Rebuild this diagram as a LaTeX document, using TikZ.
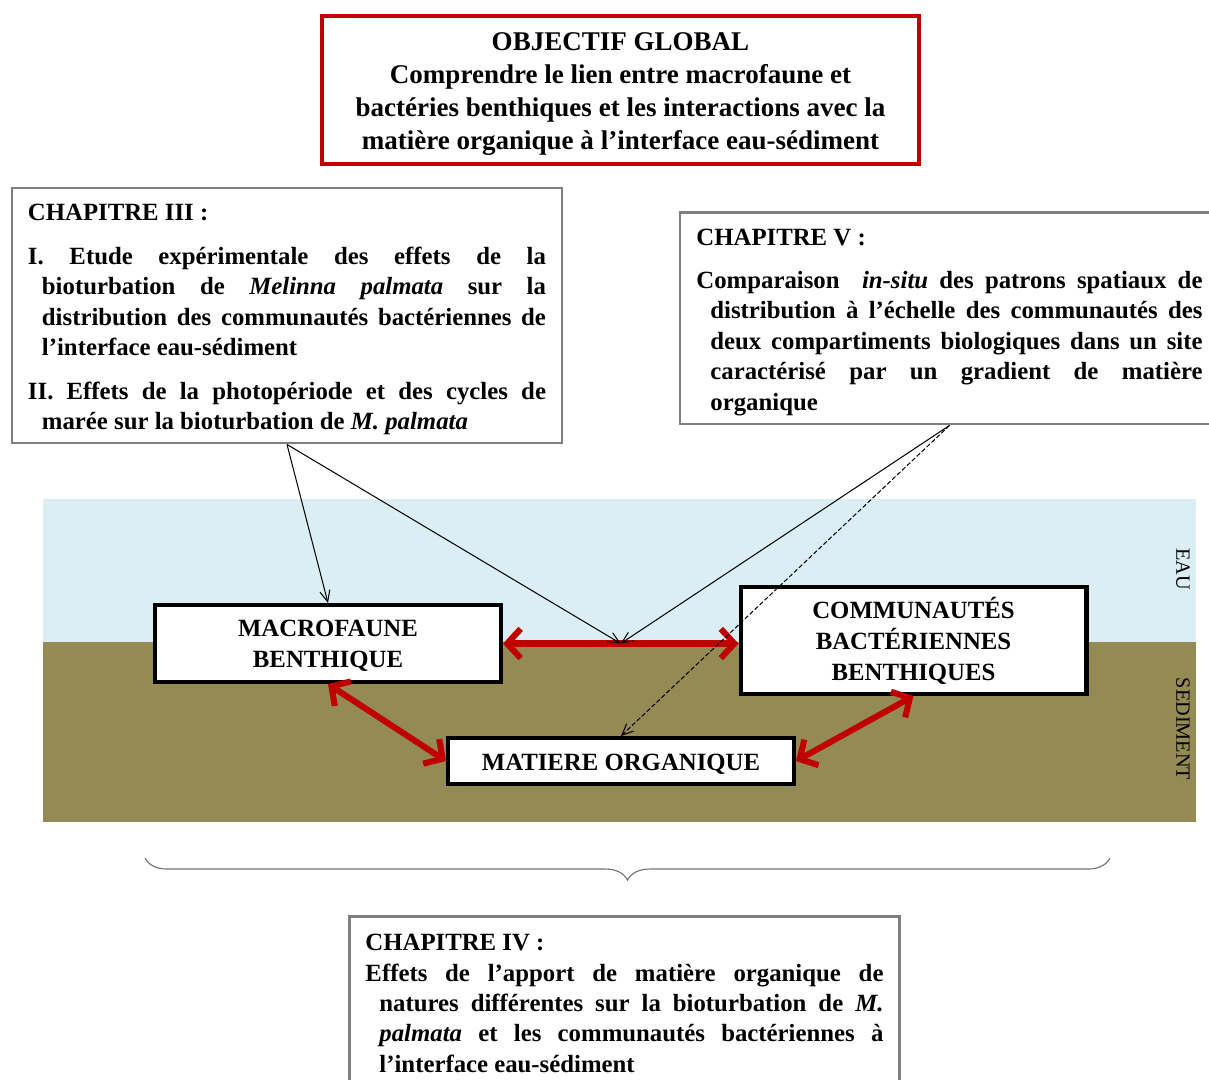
\documentclass[tikz,border=0pt]{standalone}
\usepackage{fontspec}
\setmainfont{Liberation Serif}
\usetikzlibrary{arrows.meta, decorations.pathreplacing}
\definecolor{eau}{RGB}{218,238,243}
\definecolor{sediment}{RGB}{148,138,84}
\definecolor{rouge}{RGB}{192,0,0}
\definecolor{gris}{RGB}{127,127,127}
\newcommand{\hangpar}{\hangindent=6.2pt\hangafter=1\relax}

\begin{document}
\begin{tikzpicture}[x=0.444pt, y=-0.444pt,
	goalbox/.style={draw=rouge, line width=1.6pt, fill=white, minimum width=265.1pt, minimum height=65.7pt, align=center, font=\fontsize{12}{14.65}\selectfont\bfseries},
	chapbox/.style={draw=gris, line width=1.3pt, fill=white, inner xsep=7.1pt, align=justify, font=\fontsize{11}{13.5}\selectfont\bfseries, execute at begin node={\setlength\parindent{0pt}\setlength\parskip{#1}}},
	chapbox/.default=5.8pt,
	compbox/.style={draw=black, line width=1.8pt, fill=white, minimum width=153.6pt, align=center, font=\fontsize{11}{13.76}\selectfont\bfseries},
	redlink/.style={draw=rouge, line width=2.7pt, {Straight Barb[length=6pt,width=13pt]}-{Straight Barb[length=6pt,width=13pt]}},
	thinlink/.style={draw=black, line width=0.45pt, -{Straight Barb[length=5pt,width=4.5pt]}},
	zonelabel/.style={rotate=-90, font=\fontsize{9}{11}\selectfont}]
	\path[use as bounding box] (0,0) rectangle (1209,1079);
	\clip (0,0) rectangle (1209,1079);

	\fill[eau] (43,499) rectangle (1196,642);
	\fill[sediment] (43,642) rectangle (1196,822);
	\node[zonelabel] (eau) at (1183,569) {EAU};
	\node[zonelabel] (sed) at (1183,729) {SEDIMENT};

	\node[goalbox] (goal) at (620.5,90) {\rule{0pt}{11.5pt}OBJECTIF GLOBAL\\Comprendre le lien entre macrofaune et\\bactéries benthiques et les interactions avec la\\matière organique à l’interface eau-sédiment};

	\node[chapbox, text width=230pt, minimum width=244.2pt, minimum height=113.2pt] (ch3) at (287,315.5) {\rule{0pt}{11pt}CHAPITRE III :\par
		\hangpar I.\ Etude expérimentale des effets de la\linebreak bioturbation de \textit{Melinna palmata} sur la\linebreak distribution des communautés bactériennes de\linebreak l’interface eau-sédiment\par
		\hangpar II. Effets de la photopériode et des cycles de\linebreak marée sur la bioturbation de \textit{M. palmata}\par};

	\node[chapbox, text width=224.7pt, minimum width=239.3pt, minimum height=94.1pt] (ch5) at (949.5,318) {\rule{0pt}{11pt}CHAPITRE V :\par
		\hangpar Comparaison \ \textit{in-situ} des patrons spatiaux de\linebreak distribution à l’échelle des communautés des\linebreak deux compartiments biologiques dans un site\linebreak caractérisé par un gradient de matière\linebreak organique\par};

	\node[chapbox=0pt, text width=230pt, minimum width=244.6pt, minimum height=75pt] (ch4) at (624.5,1000.5) {\rule{0pt}{9.8pt}CHAPITRE IV :\par
		\hangpar Effets de l’apport de matière organique de\linebreak natures différentes sur la bioturbation de \textit{M.}\linebreak \textit{palmata} et les communautés bactériennes à\linebreak l’interface eau-sédiment\par};

	\node[compbox, minimum height=34.2pt] (macro) at (328,643.5) {\rule{0pt}{9.1pt}MACROFAUNE\\BENTHIQUE};
	\node[compbox, minimum height=47.5pt] (comm) at (913.5,640.5) {COMMUNAUTÉS\\BACTÉRIENNES\\BENTHIQUES};
	\node[compbox, minimum height=20.4pt] (matiere) at (621,761) {\rule{0pt}{10pt}MATIERE ORGANIQUE};

	\draw[redlink] (macro.east) -- coordinate[pos=0.5] (meet) (macro.east -| comm.west);
	\draw[redlink] (macro.south) -- (matiere.west);
	\draw[redlink] (matiere.east) -- (comm.south);

	\draw[thinlink] (ch3.south) -- (macro.north);
	\draw[thinlink] (ch3.south) -- (meet);
	\draw[thinlink] (ch5.south) -- (meet);
	\draw[thinlink, dash pattern=on 2pt off 1pt] (ch5.south) -- (matiere.north);

	\draw[black!55, line width=0.5pt, decorate, decoration={brace, mirror, amplitude=9.8pt}] (145,858) -- (1110,858);
\end{tikzpicture}
\end{document}
